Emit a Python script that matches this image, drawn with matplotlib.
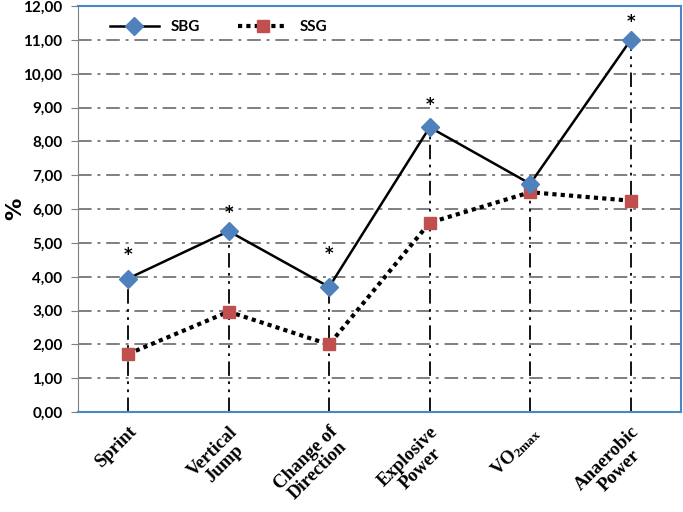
import numpy as np
import matplotlib
matplotlib.use('Agg')
import matplotlib.pyplot as plt

plt.rcParams['mathtext.fontset'] = 'custom'
plt.rcParams['mathtext.rm'] = 'Liberation Serif:bold'
plt.rcParams['mathtext.it'] = 'Liberation Serif:bold'
plt.rcParams['mathtext.bf'] = 'Liberation Serif:bold'

# data
categories = ['Sprint', 'Vertical\nJump', 'Change of\nDirection', 'Explosive\nPower',
              r'VO$_{\mathrm{2max}}$', 'Anaerobic\nPower']
sbg = [3.95, 5.35, 3.70, 8.42, 6.75, 11.00]
ssg = [1.72, 2.97, 2.00, 5.60, 6.50, 6.25]
star_y = [4.65, 5.90, 4.68, 9.07, None, 11.52]
yticks = np.arange(0, 13, 1)

x = np.arange(len(categories))

fig = plt.figure(figsize=(6.83, 5.12), dpi=100)
ax = fig.add_axes([0.114, 0.195, 0.883, 0.793])

# horizontal grid
for t in yticks[1:]:
    ax.axhline(t, color='#7f7f7f', lw=1.4, ls=(0, (7, 3, 1.5, 3)), zorder=1)

# drop lines from top value to zero
for xi, a, b in zip(x, sbg, ssg):
    ax.plot([xi, xi], [0, max(a, b)], color='black', lw=1.3,
            ls=(0, (8, 3, 1.5, 3, 1.5, 3)), zorder=2)

ax.plot(x, sbg, color='black', lw=1.8, marker='D', ms=9, mfc='#4f81bd',
        mec='#4f81bd', label='SBG', zorder=4)
ax.plot(x, ssg, color='black', lw=3, ls=(0, (1, 1)), marker='s', ms=8,
        mfc='#c0504d', mec='#c0504d', label='SSG', zorder=3)

for xi, s in zip(x, star_y):
    if s is not None:
        ax.text(xi, s, '*', ha='center', va='center', fontsize=12,
                fontweight='bold', color='black')

ax.set_xlim(-0.5, len(categories) - 0.5)
ax.set_ylim(0, 12)
ax.set_yticks(yticks)
ax.set_yticklabels([('%.2f' % v).replace('.', ',') for v in yticks],
                   fontsize=11, fontweight='bold', family='Lato')
ax.set_xticks(x)
ax.set_xticklabels(categories, rotation=45, ha='right', rotation_mode='anchor',
                   multialignment='center', fontsize=13.5, fontweight='bold',
                   family='Liberation Serif', linespacing=1.0)
ax.tick_params(axis='x', length=0, pad=8)
ax.tick_params(axis='y', length=5, color='#7f7f7f', pad=6)

ax.spines['left'].set_color('#7f7f7f')
for s in ['top', 'right', 'bottom']:
    ax.spines[s].set_color('#4a86c8')
    ax.spines[s].set_linewidth(1.5)

ax.set_ylabel('%', fontsize=16, fontweight='bold')
ax.yaxis.set_label_coords(-0.088, 0.5)

ax.legend(loc='upper left', bbox_to_anchor=(0.03, 1.0), ncol=2, frameon=False,
          prop={'family': 'Lato', 'weight': 'bold', 'size': 11},
          handlelength=3.2, columnspacing=2.5)

fig.savefig('out.png', dpi=100)
